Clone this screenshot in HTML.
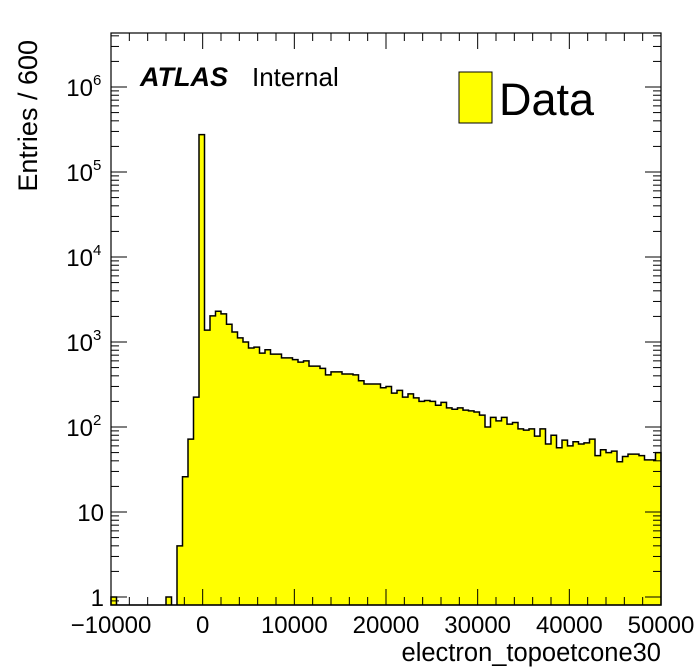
<!DOCTYPE html>
<html><head><meta charset="utf-8"><style>
html,body{margin:0;padding:0;background:#fff;}
svg{display:block;font-family:"Liberation Sans",sans-serif;}
</style></head><body>
<svg id="c" width="696" height="672" viewBox="0 0 696 672">
<rect width="696" height="672" fill="#fff"/>
<g id="plot"></g>
<g id="axes"></g>
<text x="37" y="40" font-size="27" text-anchor="end" transform="rotate(-90 37 40)">Entries / 600</text>
<text x="661" y="661" font-size="25.5" text-anchor="end">electron_topoetcone30</text>
<text x="140" y="86" font-size="27" font-weight="bold" font-style="italic">ATLAS</text>
<text x="252" y="86" font-size="26">Internal</text>
<rect x="459" y="72" width="33" height="51" fill="#ffff00" stroke="#000" stroke-width="1"/>
<text x="499" y="115" font-size="45">Data</text>
</svg>
<script>
const xMin=-10000, xMax=50000, binWidth=600;
const counts=[1,0,0,0,0,0,0,0,0,0,1,0,4,26,72,225,275000,1380,2030,2300,2140,1620,1310,1120,1000,850,870,740,810,720,720,650,650,620,580,600,520,520,490,410,445,445,420,420,410,350,320,320,320,290,300,250,270,225,245,220,200,205,200,180,195,168,162,168,158,155,150,138,100,130,118,130,108,113,95,92,95,78,95,63,80,57,70,60,67,63,65,72,46,54,50,52,39,45,48,48,46,41,41,50];
const xTicks=[-10000,0,10000,20000,30000,40000,50000];
const xTickLabels=["\u221210000","0","10000","20000","30000","40000","50000"];
const yDecades=[0,1,2,3,4,5,6];
const L=111,R=661,T=33,B=605;
const y1=597, dec=85;
const sx=v=>L+(v-xMin)/(xMax-xMin)*(R-L);
const sy=v=>v<=0?B:Math.min(B,y1-Math.log10(v)*dec);
const NS="http://www.w3.org/2000/svg";
function mk(t,a,p){const e=document.createElementNS(NS,t);for(const k in a)e.setAttribute(k,a[k]);p.appendChild(e);return e;}
const plot=document.getElementById('plot'), axes=document.getElementById('axes');
let d=`M${sx(xMin)},${B}`;
counts.forEach((c,i)=>{const x0=sx(xMin+i*binWidth),x1=sx(xMin+(i+1)*binWidth);const y=sy(c);d+=` L${x0},${y} L${x1},${y}`;});
d+=` L${sx(xMax)},${B} Z`;
const hist=mk('path',{d:d,fill:'#ffff00',stroke:'#000','stroke-width':1.5},plot);


const frame=mk('rect',{x:L,y:T,width:R-L,height:B-T,fill:'none',stroke:'#000','stroke-width':1.2},axes);


for(let v=xMin;v<=xMax;v+=2000){const x=sx(v);const len=(v%10000===0)?16:8;
 mk('line',{x1:x,x2:x,y1:B,y2:B-len,stroke:'#000','stroke-width':1},axes);
 mk('line',{x1:x,x2:x,y1:T,y2:T+len,stroke:'#000','stroke-width':1},axes);}
xTicks.forEach((v,i)=>{const t=mk('text',{x:sx(v),y:633,'font-size':24,'text-anchor':'middle'},axes);t.textContent=xTickLabels[i];
 
 });
yDecades.forEach(k=>{
 for(let m=1;m<=9;m++){const y=y1-(k+Math.log10(m))*dec;if(y<T||y>B)continue;const len=m===1?16:8;
  mk('line',{x1:L,x2:L+len,y1:y,y2:y,stroke:'#000','stroke-width':1},axes);
  mk('line',{x1:R,x2:R-len,y1:y,y2:y,stroke:'#000','stroke-width':1},axes);}
 const y=y1-k*dec;
 const t=mk('text',{x:k>=2?93:104,y:y+9,'font-size':24,'text-anchor':'end'},axes);
 
 
 t.textContent=k===0?"1":"10";
 if(k>=2){const s=mk('text',{x:93,y:y-2,'font-size':15},axes);s.textContent=String(k);
  
  }
});
for(let m=8;m<=9;m++){const y=y1-(Math.log10(m)-1)*dec;if(y<=B){mk('line',{x1:L,x2:L+8,y1:y,y2:y,stroke:'#000','stroke-width':1},axes);}}
</script>
</body></html>
